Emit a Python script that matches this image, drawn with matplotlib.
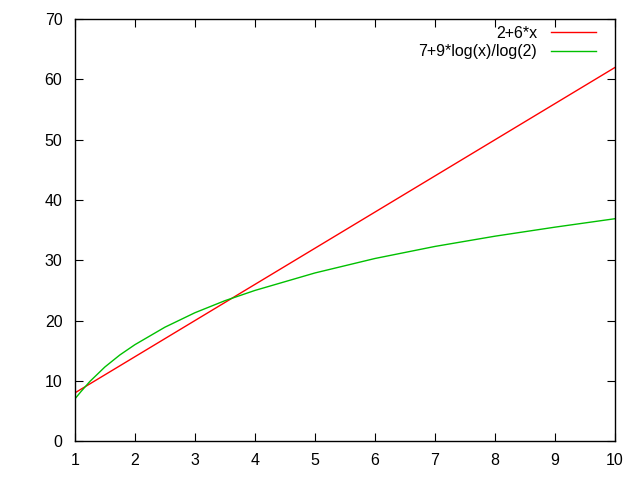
import matplotlib
matplotlib.use("Agg")
from matplotlib import pyplot as plt

plt.rcParams['font.family'] = ['Liberation Sans', 'DejaVu Sans']

# red series: 2+6*x
red_x = [1, 10]
red_y = [8, 62]

# green series: 7+9*log(x)/log(2)
green_x = [1, 1.1, 1.25, 1.5, 1.75, 2, 2.5, 3, 3.5, 4, 5, 6, 7, 8, 9, 10]
green_y = [7.0, 8.2, 9.9, 12.3, 14.3, 16.0, 18.9, 21.3, 23.3, 25.0, 27.9, 30.3, 32.3, 34.0, 35.5, 36.9]

xticks = [1, 2, 3, 4, 5, 6, 7, 8, 9, 10]
yticks = [0, 10, 20, 30, 40, 50, 60, 70]

fig = plt.figure(figsize=(6.4, 4.8), dpi=100)
ax = fig.add_axes([0.117, 0.081, 0.844, 0.879])

ax.plot(red_x, red_y, color="#ff0000", lw=1, label="2+6*x")
ax.plot(green_x, green_y, color="#00c000", lw=1, label="7+9*log(x)/log(2)")

ax.set_xlim(1, 10)
ax.set_ylim(0, 70)
ax.set_xticks(xticks)
ax.set_yticks(yticks)
ax.tick_params(direction="in", top=True, right=True, length=6, labelsize=11.5)
ax.tick_params(axis="y", pad=9)
ax.tick_params(axis="x", pad=8.5)
for s in ax.spines.values():
    s.set_linewidth(1)

ax.legend(loc="upper right", bbox_to_anchor=(596 / 640, 1 - 26 / 480),
          bbox_transform=fig.transFigure, frameon=False, markerfirst=False,
          handlelength=2.8, fontsize=11.5, borderaxespad=0, borderpad=0,
          labelspacing=0.2, handletextpad=0.875)

fig.savefig("out.png", dpi=100)
